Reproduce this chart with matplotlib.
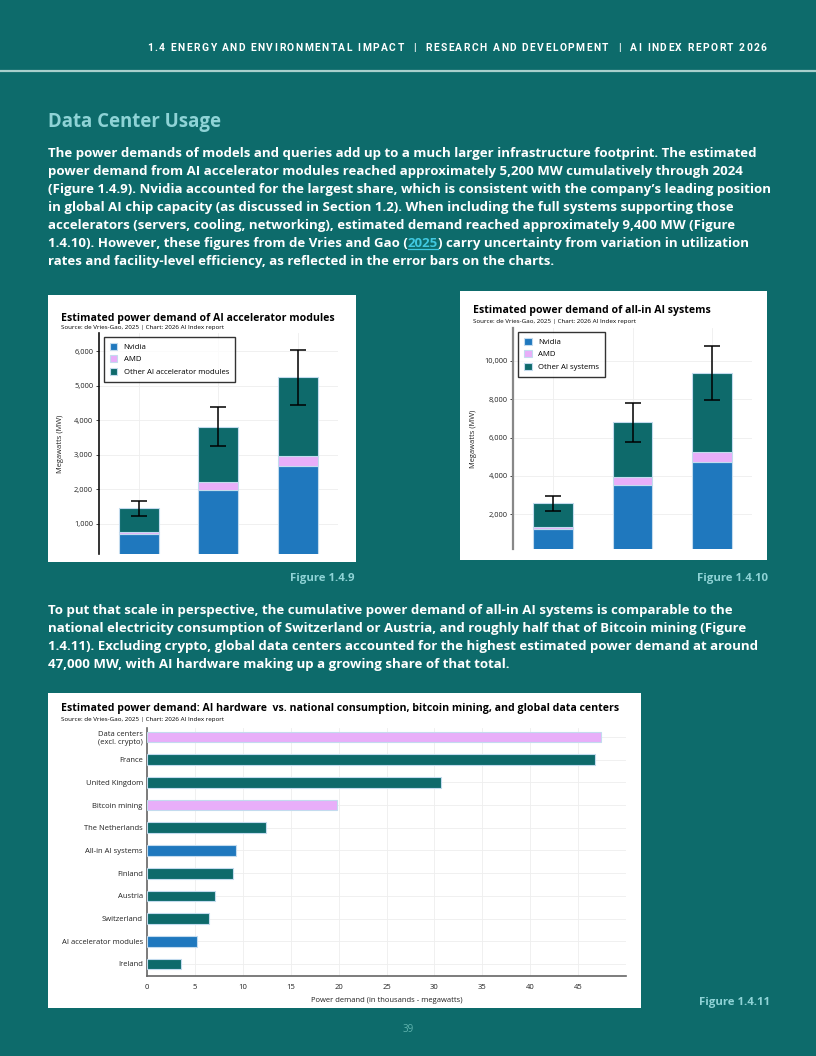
import matplotlib
matplotlib.use("Agg")
import matplotlib.pyplot as plt
from matplotlib.patches import Rectangle
from matplotlib.ticker import FuncFormatter

# page size in pixels (dpi 100)
W, H = 816, 1056

BG = "#0d6b6b"
NVIDIA = "#1f78be"
AMD = "#e8aef9"
OTHER = "#0e6a6b"
EDGE = "#c3dbee"
LIGHT = "#8fd3d6"

# Figure 1.4.9 - AI accelerator modules (MW)
years = ["2022", "2023", "2024"]
accel_nvidia = [690, 1990, 2670]
accel_amd = [70, 220, 280]
accel_other = [700, 1600, 2310]
accel_err_low = [1230, 3240, 4455]
accel_err_high = [1670, 4380, 6030]

# Figure 1.4.10 - all-in AI systems (MW)
systems_nvidia = [1220, 3550, 4750]
systems_amd = [100, 400, 520]
systems_other = [1250, 2870, 4100]
systems_err_low = [2190, 5790, 7950]
systems_err_high = [2960, 7830, 10770]

# Figure 1.4.11 - comparison (thousands of MW)
compare_labels = ["Data centers\n(excl. crypto)", "France", "United Kingdom", "Bitcoin mining",
                  "The Netherlands", "All-in AI systems", "Finland", "Austria", "Switzerland",
                  "AI accelerator modules", "Ireland"]
compare_values = [47.4, 46.8, 30.7, 19.85, 12.4, 9.3, 8.96, 7.15, 6.45, 5.2, 3.55]
compare_groups = ["other", "country", "country", "other", "country", "ai", "country",
                  "country", "country", "ai", "country"]
group_colors = {"other": AMD, "country": OTHER, "ai": NVIDIA}

HEADER = "1.4 ENERGY AND ENVIRONMENTAL IMPACT  |  RESEARCH AND DEVELOPMENT  |  AI INDEX REPORT 2026"

plt.rcParams["font.family"] = ["Open Sans", "DejaVu Sans"]

fig = plt.figure(figsize=(W / 100, H / 100), dpi=100, facecolor=BG)

# background axes in page pixels, y going down
bg = fig.add_axes([0, 0, 1, 1])
bg.set_xlim(0, W)
bg.set_ylim(H, 0)
bg.axis("off")
bg.set_facecolor(BG)


def panel(left, top, right, bottom):
    bg.add_patch(Rectangle((left, top), right - left, bottom - top, facecolor="white",
                           edgecolor="none", zorder=1))


def px_axes(left, top, right, bottom):
    return fig.add_axes([left / W, 1 - bottom / H, (right - left) / W, (bottom - top) / H])


# header, letter-spaced by hand
prev = bg.text(147, 51, HEADER[0], ha="left", va="baseline", color="white", fontsize=7.4,
               fontweight="bold", family="Roboto")
for ch in HEADER[1:]:
    prev = bg.annotate(ch, xy=(1, 0), xycoords=prev, xytext=(1.08, 0), textcoords="offset points",
                       ha="left", va="bottom", color="white", fontsize=7.4, fontweight="bold",
                       family="Roboto")
bg.plot([0, W], [71, 71], color="#a9cfcc", lw=1.6)

bg.text(48, 122, "Data Center Usage", color=LIGHT, fontsize=13.4, fontweight="bold", va="center")

BODY = 9.55
body_kw = dict(color="white", fontsize=BODY, fontweight="bold", va="baseline", ha="left")

para1 = [
    "The power demands of models and queries add up to a much larger infrastructure footprint. The estimated",
    "power demand from AI accelerator modules reached approximately 5,200 MW cumulatively through 2024",
    "(Figure 1.4.9). Nvidia accounted for the largest share, which is consistent with the company\u2019s leading position",
    "in global AI chip capacity (as discussed in Section 1.2). When including the full systems supporting those",
    "accelerators (servers, cooling, networking), estimated demand reached approximately 9,400 MW (Figure",
    None,
    "rates and facility-level efficiency, as reflected in the error bars on the charts.",
]
for i, line in enumerate(para1):
    y = 157 + i * 18
    if line is None:
        t1 = bg.text(48, y, "1.4.10). However, these figures from de Vries and Gao (", **body_kw)
        t2 = bg.annotate("2025", xy=(1, 0), xycoords=t1, va="bottom", ha="left",
                         color="#40c8e0", fontsize=BODY, fontweight="bold")
        t3 = bg.annotate(") carry uncertainty from variation in utilization", xy=(1, 0), xycoords=t2,
                         va="bottom", ha="left", color="white", fontsize=BODY, fontweight="bold")
        link_y = y
    else:
        bg.text(48, y, line, **body_kw)

para2 = [
    "To put that scale in perspective, the cumulative power demand of all-in AI systems is comparable to the",
    "national electricity consumption of Switzerland or Austria, and roughly half that of Bitcoin mining (Figure",
    "1.4.11). Excluding crypto, global data centers accounted for the highest estimated power demand at around",
    "47,000 MW, with AI hardware making up a growing share of that total.",
]
for i, line in enumerate(para2):
    bg.text(48, 614 + i * 18, line, **body_kw)

fig_kw = dict(color=LIGHT, fontsize=8.2, fontweight="bold", ha="right", va="center")
bg.text(354, 578, "Figure 1.4.9", **fig_kw)
bg.text(768, 578, "Figure 1.4.10", **fig_kw)
bg.text(770, 1003, "Figure 1.4.11", **fig_kw)
bg.text(408, 1030, "39", color="#5fb3ae", fontsize=7, ha="center", va="center")

panel(48, 295, 356, 562)
panel(460, 291, 767, 560)
panel(48, 693, 641, 1008)


def stacked(ax, nvidia, amd, other, err_low, err_high, other_label, ylim, ticks):
    b1 = ax.bar(years, nvidia, width=0.5, color=NVIDIA, edgecolor=EDGE, lw=0.8, label="Nvidia", zorder=3)
    b2 = ax.bar(years, amd, width=0.5, bottom=nvidia, color=AMD, edgecolor=EDGE, lw=0.8,
                label="AMD", zorder=3)
    base = [a + b for a, b in zip(nvidia, amd)]
    b3 = ax.bar(years, other, width=0.5, bottom=base, color=OTHER, edgecolor=EDGE, lw=0.8,
                label=other_label, zorder=3)
    totals = [a + b for a, b in zip(base, other)]
    yerr = [[t - lo for t, lo in zip(totals, err_low)], [hi - t for t, hi in zip(totals, err_high)]]
    ax.errorbar(years, totals, yerr=yerr, fmt="none", ecolor="black", elinewidth=1.1,
                capsize=5.5, capthick=1.1, zorder=4)
    ax.set_xlim(-0.5, 2.5)
    ax.set_ylim(*ylim)
    ax.set_yticks(ticks)
    ax.yaxis.set_major_formatter(FuncFormatter(lambda v, _: f"{v:,.0f}"))
    ax.tick_params(axis="y", labelsize=5.4, length=2, width=0.6, pad=2, colors="#222222")
    ax.tick_params(axis="x", labelbottom=False, length=0)
    ax.grid(True, color="#eeeeee", lw=0.6, zorder=0)
    for s in ["top", "right", "bottom"]:
        ax.spines[s].set_visible(False)
    ax.set_ylabel("Megawatts (MW)", fontsize=5.4, color="#222222")
    return [b1, b2, b3]


def legend(ax, handles, x, y):
    leg = ax.legend(handles=handles, loc="upper left", bbox_to_anchor=(x / W, 1 - y / H),
                    bbox_transform=fig.transFigure, fontsize=5.6, frameon=True, fancybox=False,
                    edgecolor="black", borderaxespad=0, handlelength=1.0, handleheight=1.0,
                    labelspacing=0.55, borderpad=0.75, handletextpad=0.8)
    leg.get_frame().set_linewidth(1.0)


title_kw = dict(fontsize=7.55, fontweight="bold", va="center", zorder=5)
source_kw = dict(fontsize=4.5, va="center", zorder=5)
SOURCE = "Source: de Vries-Gao, 2025 | Chart: 2026 AI Index report"

# Figure 1.4.9
bg.text(61, 318, "Estimated power demand of AI accelerator modules", **title_kw)
bg.text(61, 327, SOURCE, **source_kw)
ax1 = px_axes(98.7, 333, 338, 554)
h1 = stacked(ax1, accel_nvidia, accel_amd, accel_other, accel_err_low, accel_err_high,
             "Other AI accelerator modules", (120, 6530), [1000, 2000, 3000, 4000, 5000, 6000])
ax1.spines["left"].set_color("#111111")
ax1.spines["left"].set_linewidth(1.2)
ax1.yaxis.set_label_coords(-0.146, 0.5)
legend(ax1, h1, 103.7, 337)

# Figure 1.4.10
bg.text(473, 311, "Estimated power demand of all-in AI systems", **title_kw)
bg.text(473, 321, SOURCE, **source_kw)
ax2 = px_axes(513.3, 328, 751.7, 549)
h2 = stacked(ax2, systems_nvidia, systems_amd, systems_other, systems_err_low, systems_err_high,
             "Other AI systems", (190, 11720), [2000, 4000, 6000, 8000, 10000])
ax2.spines["left"].set_color("#888888")
ax2.spines["left"].set_linewidth(1.6)
ax2.yaxis.set_label_coords(-0.154, 0.5)
legend(ax2, h2, 518, 332)

# Figure 1.4.11
bg.text(61, 709, "Estimated power demand: AI hardware  vs. national consumption, bitcoin mining, and global data centers",
        **title_kw)
bg.text(61, 719, SOURCE, **source_kw)
ax3 = px_axes(147, 728, 626, 975.7)
ax3.barh(compare_labels, compare_values, height=0.47,
         color=[group_colors[g] for g in compare_groups], edgecolor=EDGE, lw=0.8, zorder=3)
ax3.set_ylim(10.52, -0.4)
ax3.set_xlim(0, 50)
ax3.set_xticks([0, 5, 10, 15, 20, 25, 30, 35, 40, 45])
ax3.tick_params(axis="both", labelsize=5.5, length=0, pad=3, colors="#222222")
ax3.tick_params(axis="x", pad=6)
ax3.grid(True, color="#eeeeee", lw=0.6, zorder=0)
for s in ["top", "right"]:
    ax3.spines[s].set_visible(False)
for s in ["left", "bottom"]:
    ax3.spines[s].set_color("#666666")
    ax3.spines[s].set_linewidth(1.2)
ax3.set_xlabel("Power demand (in thousands - megawatts)", fontsize=5.5, color="#222222", labelpad=4)

# underline the 2025 link, just under the baseline
fig.canvas.draw()
bb = t2.get_window_extent().transformed(bg.transData.inverted())
bg.plot([bb.x0 + 0.5, bb.x1 - 0.5], [link_y + 2, link_y + 2], color="#40c8e0", lw=0.9)

fig.savefig("out.png", dpi=100, facecolor=BG)
